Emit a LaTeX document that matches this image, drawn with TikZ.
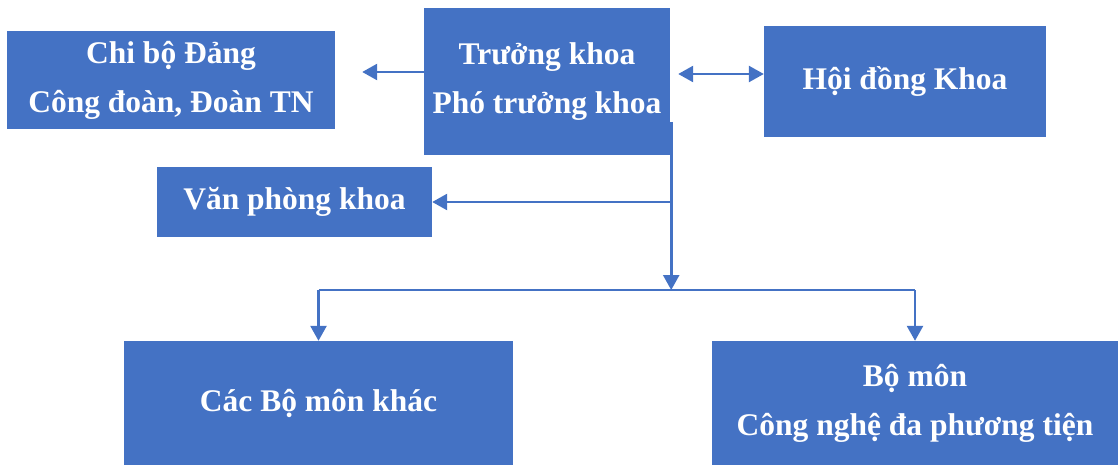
\documentclass[tikz,border=0pt]{standalone}
\usepackage{fontspec}
\setmainfont{Liberation Serif}
\usetikzlibrary{arrows.meta,calc}
\definecolor{boxblue}{HTML}{4472C4}
\begin{document}
\begin{tikzpicture}[x=1pt,y=-1pt,
  unitbox/.style={fill=boxblue,draw=none,text=white,align=center,inner sep=0pt,
    font=\fontsize{31.5}{49}\selectfont\bfseries},
  link/.style={draw=boxblue,line width=2.6pt},
  tip/.style={-{Triangle[length=15pt,width=16pt]}},
  bus/.style={draw=boxblue,line width=1.6pt}]
\useasboundingbox (0,0) rectangle (1118,465);

% units
\node[unitbox,minimum width=328pt,minimum height=98pt] (cb) at (171,80)
  {Chi bộ Đảng\\Công đoàn, Đoàn TN};
\node[unitbox,minimum width=246pt,minimum height=147pt] (tk) at (547,81.5)
  {Trưởng khoa\\Phó trưởng khoa};
\node[unitbox,minimum width=282pt,minimum height=111pt] (hd) at (905,81.5)
  {Hội đồng Khoa};
\node[unitbox,minimum width=275pt,minimum height=70pt] (vp) at (294.5,202)
  {Văn phòng khoa};
\node[unitbox,minimum width=389pt,minimum height=124pt] (cbm) at (318.5,403)
  {Các Bộ môn khác};
\node[unitbox,minimum width=406pt,minimum height=124pt] (bm) at (915,403)
  {Bộ môn\\Công nghệ đa phương tiện};

% connector points
\coordinate (top) at ($(tk.east |- 0,122)+(1,0)$);
\coordinate (mid) at ($(tk.east |- 0,290)+(1,0)$);
\coordinate (vpj) at ($(tk.east |- vp.east)+(1,0)$);
\coordinate (bl) at (cbm.north |- mid);
\coordinate (br) at (bm.north |- mid);

% connectors
\draw[link,tip,shorten >=27pt] (tk.west |- 0,72) -- (cb.east |- 0,72);
\draw[link,{Triangle[length=15pt,width=16pt]}-{Triangle[length=15pt,width=16pt]},shorten <=8pt]
  (tk.east |- 0,74) -- (hd.west |- 0,74);
\draw[link,tip] (top) -- (mid);
\draw[link,tip] (vpj) -- (vp.east);
\draw[bus] (bl) -- (br);
\draw[link,tip] (bl) -- (cbm.north);
\draw[link,tip] (br) -- (bm.north);
\end{tikzpicture}
\end{document}
